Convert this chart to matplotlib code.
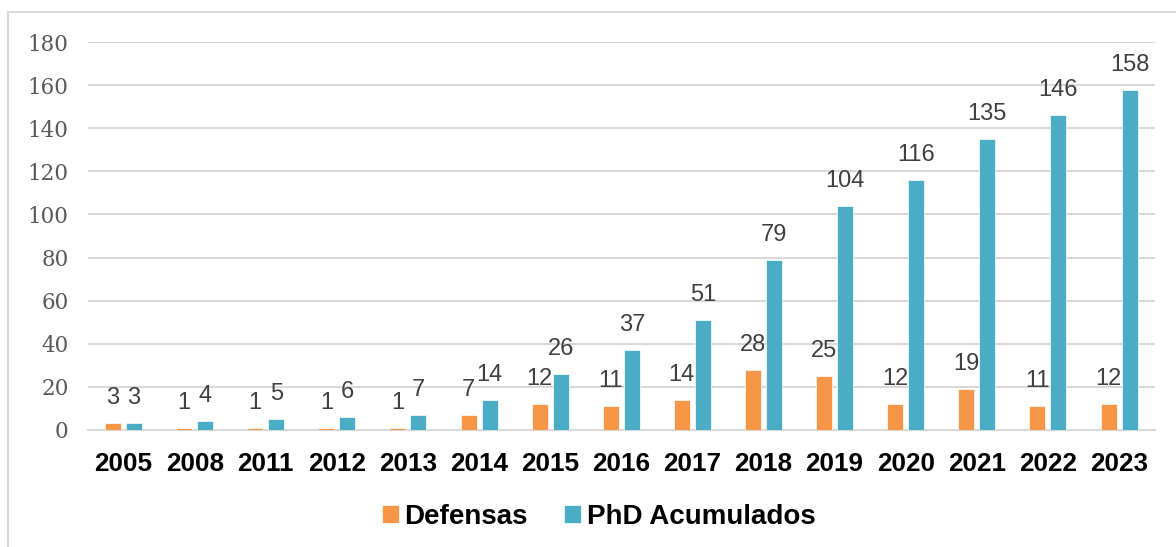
import matplotlib
matplotlib.use("Agg")
import matplotlib.pyplot as plt
import numpy as np
from matplotlib.patches import Rectangle

years = ["2005", "2008", "2011", "2012", "2013", "2014", "2015", "2016",
         "2017", "2018", "2019", "2020", "2021", "2022", "2023"]
defensas = [3, 1, 1, 1, 1, 7, 12, 11, 14, 28, 25, 12, 19, 11, 12]
acumulados = [3, 4, 5, 6, 7, 14, 26, 37, 51, 79, 104, 116, 135, 146, 158]

ORANGE = "#F79646"
TEAL = "#4BACC6"

fig = plt.figure(figsize=(11.76, 5.47), dpi=100)
ax = fig.add_axes([0.0748, 0.214, 0.907, 0.709])

# figure border
fig.patches.append(Rectangle((8 / 1176, -0.01), 1.2, 1 - 12 / 547 + 0.01,
                             transform=fig.transFigure, fill=False,
                             edgecolor="#D9D9D9", linewidth=1.5))

x = np.arange(len(years))
w = 0.225
off = 0.148
b1 = ax.bar(x - off, defensas, w, color=ORANGE, edgecolor="white", linewidth=0.5,
            label="Defensas", zorder=3)
b2 = ax.bar(x + off, acumulados, w, color=TEAL, edgecolor="white", linewidth=0.5,
            label="PhD Acumulados", zorder=3)

for bars in (b1, b2):
    for r in bars:
        ax.annotate(f"{int(r.get_height())}",
                    (r.get_x() + r.get_width() / 2, r.get_height()),
                    xytext=(0, 14), textcoords="offset pixels",
                    ha="center", va="bottom", fontsize=17,
                    family="Liberation Sans", color="#404040")

ax.set_ylim(0, 180)
ax.set_xlim(-0.5, len(years) - 0.5)
ax.set_yticks(range(0, 181, 20))
ax.yaxis.grid(True, color="#D9D9D9", linewidth=1.5, zorder=0)
ax.set_axisbelow(True)
for s in ["top", "right", "left"]:
    ax.spines[s].set_visible(False)
ax.spines["bottom"].set_color("#D9D9D9")
ax.spines["bottom"].set_linewidth(1.5)
ax.tick_params(axis="both", length=0)
ax.tick_params(axis="y", pad=14)
ax.tick_params(axis="x", pad=16)
ax.set_xticks(x)
ax.set_xticklabels(years, fontsize=18.8, fontweight="bold",
                   family="Liberation Sans", color="black")
for lab in ax.get_yticklabels():
    lab.set_fontfamily("DejaVu Serif")
    lab.set_fontsize(15.5)
    lab.set_color("#595959")

leg = fig.legend(handles=[b1, b2], loc="center", bbox_to_anchor=(0.509, 1 - 517 / 547),
                 ncol=2, frameon=False, handlelength=0.62, handleheight=0.62,
                 handletextpad=0.2, columnspacing=1.3,
                 prop={"family": "Liberation Sans", "weight": "bold", "size": 20})

fig.savefig("out.png", dpi=100)
